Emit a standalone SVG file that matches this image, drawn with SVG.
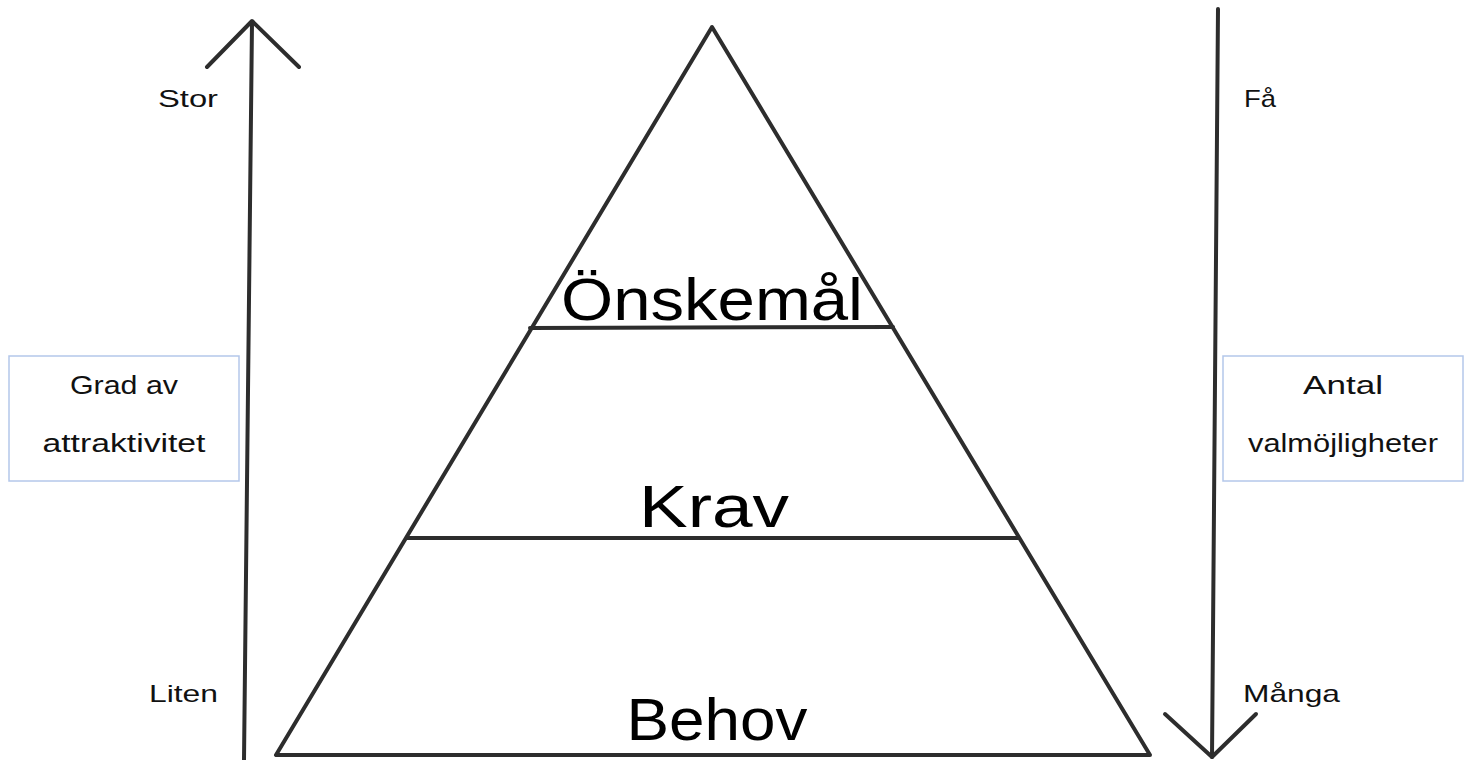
<svg xmlns="http://www.w3.org/2000/svg" width="1470" height="760" viewBox="0 0 1470 760">
<style>
.ln{stroke:#2d2d2d;stroke-width:4;fill:none;stroke-linecap:round;stroke-linejoin:round}
.big{font-family:"Liberation Sans",Arial,sans-serif;font-size:60px;fill:#000;text-anchor:middle}
.sm{font-family:"Liberation Sans",Arial,sans-serif;font-size:24px;fill:#111}
.bx{font-family:"Liberation Sans",Arial,sans-serif;font-size:26px;fill:#111;text-anchor:middle}
.box{fill:#fff;stroke:#b4c7ea;stroke-width:1.5}
</style>
<rect width="1470" height="760" fill="#fff"/>
<g id="connectors">
<g id="arrow-left">
<path class="ln" d="M252 22 L244 760"/>
<path class="ln" d="M207 67 L252 21 L299 67"/>
</g>
<g id="arrow-right">
<path class="ln" d="M1218 9 L1212 757"/>
<path class="ln" d="M1165 714 L1212 757 L1256 714"/>
</g>
</g>
<g id="pyramid">
<path class="ln" d="M712 27 L276 755 L1150 755 Z"/>
<path class="ln" d="M530 328 L893 327"/>
<path class="ln" d="M407 538 L1018 538"/>
</g>
<g id="level-onskemal"><text class="big" x="712" y="320" textLength="302" lengthAdjust="spacingAndGlyphs">Önskemål</text></g>
<g id="level-krav"><text class="big" x="714" y="527" textLength="150" lengthAdjust="spacingAndGlyphs">Krav</text></g>
<g id="level-behov"><text class="big" x="717" y="740" textLength="181" lengthAdjust="spacingAndGlyphs">Behov</text></g>
<g id="label-stor"><text class="sm" x="158" y="107" textLength="60" lengthAdjust="spacingAndGlyphs">Stor</text></g>
<g id="label-liten"><text class="sm" x="149" y="702" textLength="69" lengthAdjust="spacingAndGlyphs">Liten</text></g>
<g id="label-fa"><text class="sm" x="1244" y="107" textLength="32" lengthAdjust="spacingAndGlyphs">Få</text></g>
<g id="label-manga"><text class="sm" x="1243" y="702" textLength="97" lengthAdjust="spacingAndGlyphs">Många</text></g>
<g id="box-left">
<rect class="box" x="9" y="356" width="230" height="125"/>
<text class="bx" x="124" y="394" textLength="108" lengthAdjust="spacingAndGlyphs">Grad av</text>
<text class="bx" x="124" y="452" textLength="163" lengthAdjust="spacingAndGlyphs">attraktivitet</text>
</g>
<g id="box-right">
<rect class="box" x="1223" y="356" width="240" height="125"/>
<text class="bx" x="1343" y="394" textLength="80" lengthAdjust="spacingAndGlyphs">Antal</text>
<text class="bx" x="1343" y="452" textLength="190" lengthAdjust="spacingAndGlyphs">valmöjligheter</text>
</g>
</svg>
